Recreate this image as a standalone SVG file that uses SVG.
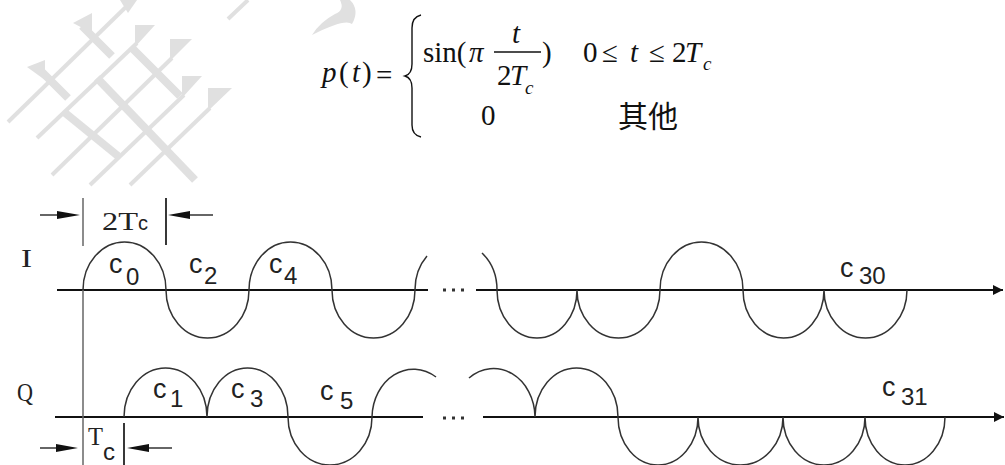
<svg xmlns="http://www.w3.org/2000/svg" width="1005" height="465" viewBox="0 0 1005 465">
<style>
.f{font-family:"Liberation Serif","Times New Roman",serif;font-size:29px;fill:#111}
.fi{font-style:italic}
.lab{font-family:"Liberation Sans",Arial,sans-serif;font-size:24px;fill:#222}
.cc{font-family:"Liberation Sans",Arial,sans-serif;font-size:27px;fill:#222}
.mono{font-family:"Liberation Serif","Times New Roman",serif;font-size:25px;fill:#222}
.wave{fill:none;stroke:#333;stroke-width:1.5}
.axis{fill:none;stroke:#111;stroke-width:2}
.vl{fill:none;stroke:#666;stroke-width:1.5}
.tick{fill:none;stroke:#222;stroke-width:1.8}
.wm{fill:#e0e0e0}
.wml{stroke:#e0e0e0;fill:none;stroke-linecap:butt}
</style>
<defs>
<marker id="ah" viewBox="0 0 10 10" refX="10" refY="5" markerWidth="10" markerHeight="10" markerUnits="userSpaceOnUse" orient="auto">
<path d="M0,0 L10,5 L0,10 Z" fill="#111"/>
</marker>
</defs>
<rect width="1005" height="465" fill="#fff"/>

<g id="watermark">
<g class="wml" stroke-width="4">
<line x1="8" y1="122" x2="133" y2="0"/>
<line x1="37" y1="138" x2="137" y2="43"/>
<line x1="52" y1="175" x2="172" y2="58"/>
<line x1="90" y1="185" x2="184" y2="95"/>
<line x1="130" y1="185" x2="210" y2="108"/>
<line x1="228" y1="19" x2="248" y2="0"/>
</g>
<g class="wml" stroke-width="8">
<line x1="40" y1="70" x2="68" y2="98"/>
<line x1="82" y1="26" x2="112" y2="56"/>
<line x1="97" y1="78" x2="195" y2="180"/>
<line x1="64" y1="112" x2="118" y2="156"/>
<line x1="131" y1="47" x2="180" y2="96"/>
</g>
<g class="wm">
<polygon points="27,67 45,60 45,80"/>
<polygon points="73,23 92,13 92,33"/>
<polygon points="135,25 155,25 135,47"/>
<polygon points="170,39 192,39 170,61"/>
<polygon points="182,76 202,76 182,98"/>
<polygon points="208,88 232,88 208,111"/>
<polygon points="120,0 137,0 128,13"/>
<path d="M312,35 Q345,18 352,24 Q360,10 350,0 L340,0 Q345,10 335,14 Q320,22 312,35 Z"/>
</g>
</g>

<g id="formula">
<text class="f fi" x="322" y="82">p</text>
<text class="f" x="339" y="82">(</text>
<text class="f fi" x="352" y="82">t</text>
<text class="f" x="362" y="82">)</text>
<text class="f" x="376" y="85">=</text>
<path d="M421,15 Q412,17 412,28 L412,64 Q412,74 405,76 Q412,78 412,88 L412,125 Q412,135 421,137" fill="none" stroke="#111" stroke-width="1.4"/>
<text class="f" x="423" y="62">sin(</text>
<text class="f fi" x="469" y="62">π</text>
<text class="f fi" x="512" y="43">t</text>
<line x1="494" y1="52" x2="541" y2="52" stroke="#111" stroke-width="1.3"/>
<text class="f" x="497" y="85">2</text>
<text class="f fi" x="510" y="85">T</text>
<text class="f fi" x="525" y="94" style="font-size:19px">c</text>
<text class="f" x="542" y="62">)</text>
<text class="f" x="583" y="62">0</text>
<text class="f" x="602" y="62">≤</text>
<text class="f fi" x="630" y="62">t</text>
<text class="f" x="649" y="62">≤</text>
<text class="f" x="672" y="62">2</text>
<text class="f fi" x="685" y="62">T</text>
<text class="f fi" x="703" y="70" style="font-size:19px">c</text>
<text class="f" x="481" y="125">0</text>
<text x="618" y="127" style="font-family:'Noto Sans CJK SC','Noto Sans CJK JP',sans-serif;font-size:30px;fill:#111">其他</text>
</g>

<g id="connectors">
<line class="axis" x1="57" y1="290" x2="428" y2="290"/>
<line class="axis" x1="476" y1="290" x2="1003" y2="290" marker-end="url(#ah)"/>
<line class="axis" x1="55" y1="417" x2="423" y2="417"/>
<line class="axis" x1="483" y1="417" x2="1004" y2="417" marker-end="url(#ah)"/>
<line class="vl" x1="83" y1="198" x2="83" y2="246"/>
<line class="vl" x1="83" y1="290" x2="83" y2="465"/>
<line class="tick" x1="166" y1="198" x2="166" y2="245"/>
<line class="tick" x1="124" y1="423" x2="124" y2="465"/>
<line x1="40" y1="215" x2="60" y2="215" stroke="#333" stroke-width="1.5"/>
<polygon points="57,211 80,215 57,219" fill="#111"/>
<line x1="187" y1="215" x2="213" y2="215" stroke="#333" stroke-width="1.5"/>
<polygon points="190,211 168,215 190,219" fill="#111"/>
<line x1="40" y1="448" x2="60" y2="448" stroke="#333" stroke-width="1.5"/>
<polygon points="56,444 78,448 56,452" fill="#111"/>
<line x1="145" y1="448" x2="172" y2="448" stroke="#333" stroke-width="1.5"/>
<polygon points="149,444 127,448 149,452" fill="#111"/>
<g fill="#333">
<rect x="443" y="288.5" width="3" height="3"/><rect x="452" y="288.5" width="3" height="3"/><rect x="461" y="288.5" width="3" height="3"/>
<rect x="443" y="416.5" width="3" height="3"/><rect x="452" y="416.5" width="3" height="3"/><rect x="461" y="416.5" width="3" height="3"/>
</g>
</g>

<g id="waveI">
<path class="wave" d="M83,290 A41.5,48 0 0 1 166,290 A41.5,48 0 0 0 249,290 A41.5,48 0 0 1 332,290 A41.5,48 0 0 0 415,290 A41.5,48 0 0 1 427,256"/>
<path class="wave" d="M482,253 A41.5,48 0 0 1 497,290 A40,48 0 0 0 577,290 A41.5,48 0 0 0 660,290 A41.5,48 0 0 1 743,290 A40.5,48 0 0 0 824,290 A41.5,48 0 0 0 907,290"/>
</g>

<g id="waveQ">
<path class="wave" d="M124,417 A41.5,49 0 0 1 207,417 A40.5,49 0 0 1 288,417 A42,48 0 0 0 372,417 A41.5,49 0 0 1 436,377"/>
<path class="wave" d="M469,378 A41.5,49 0 0 1 535,417 A41.5,49 0 0 1 618,417 A40,48 0 0 0 698,417 A42.5,48 0 0 0 783,417 A41,48 0 0 0 865,417 A40,48 0 0 0 945,417"/>
</g>

<g id="labels">
<text class="mono" x="21" y="267" textLength="11" lengthAdjust="spacingAndGlyphs">I</text>
<text class="mono" x="17" y="401" textLength="16" lengthAdjust="spacingAndGlyphs">Q</text>
<text class="mono" x="102" y="230" textLength="36" lengthAdjust="spacingAndGlyphs">2T</text>
<text class="lab" x="138" y="230" style="font-size:20px">c</text>
<text class="mono" x="88" y="445" textLength="15" lengthAdjust="spacingAndGlyphs">T</text>
<text class="lab" x="103" y="460" style="font-size:24px">c</text>
<text class="cc" x="109" y="273">c</text><text class="lab" x="126" y="285">0</text>
<text class="cc" x="189" y="273">c</text><text class="lab" x="204" y="284">2</text>
<text class="cc" x="269" y="273">c</text><text class="lab" x="284" y="284">4</text>
<text class="cc" x="153" y="398">c</text><text class="lab" x="170" y="407">1</text>
<text class="cc" x="231" y="398">c</text><text class="lab" x="250" y="407">3</text>
<text class="cc" x="320" y="400">c</text><text class="lab" x="340" y="409">5</text>
<text class="cc" x="840" y="277">c</text><text class="lab" x="859" y="284">30</text>
<text class="cc" x="882" y="396">c</text><text class="lab" x="901" y="405">31</text>
</g>
</svg>
